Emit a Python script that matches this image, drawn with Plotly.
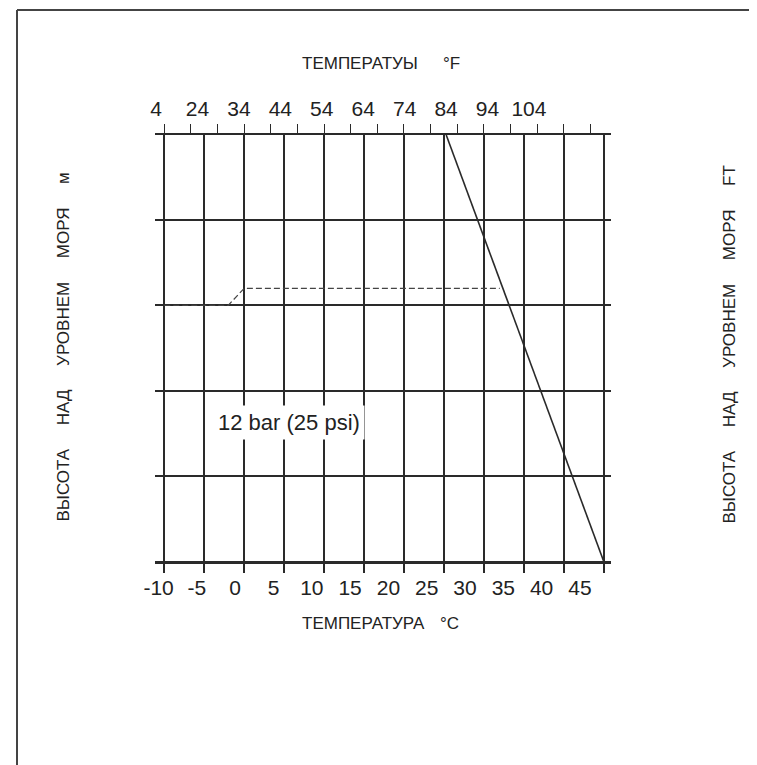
import plotly.graph_objects as go

# ---- data ----
celsius_ticks = [-10, -5, 0, 5, 10, 15, 20, 25, 30, 35, 40, 45]
fahrenheit_labels = ["4", "24", "34", "44", "54", "64", "74", "84", "94", "104"]
altitude_levels = [0, 500, 1000, 1500, 2000, 2500]

limit_temp_c = [25.3, 45]          # solid diagonal limit line
limit_alt = [2500, 0]

dashed_temp_c = [-10, -2, 0, 32]   # dashed curve
dashed_alt = [1500, 1500, 1600, 1600]

label_text = "12 bar (25 psi)"
label_pos = (5.6, 810)

# ---- figure ----
W, H = 757, 765
OFF = 8  # page body offset
FONT = "Liberation Sans"
LINE = "#2a2a2a"

fig = go.Figure()
fig.add_trace(go.Scatter(x=limit_temp_c, y=limit_alt, mode="lines",
                         line=dict(color=LINE, width=1.6), showlegend=False,
                         hoverinfo="skip"))
fig.add_trace(go.Scatter(x=dashed_temp_c, y=dashed_alt, mode="lines",
                         line=dict(color="#444", width=1.2, dash="6px,3px"),
                         showlegend=False, hoverinfo="skip"))

x_range = [-11.16, 45.93]

L, T, PW, PH = 155 - OFF, 135 - OFF, 456, 426

fig.update_layout(
    width=W, height=H,
    margin=dict(l=L, r=W - L - PW, t=T, b=H - T - PH, pad=0),
    paper_bgcolor="white", plot_bgcolor="white",
    font=dict(family=FONT, color="#222"),
    showlegend=False,
    xaxis=dict(range=x_range, tickmode="linear", tick0=celsius_ticks[0], dtick=5,
               showgrid=True, gridcolor=LINE, gridwidth=1.6, zeroline=False,
               showticklabels=False, ticks="outside", ticklen=9, tickwidth=1.6,
               tickcolor=LINE, showline=True, linecolor=LINE, linewidth=2.5),
    # bottom labels (°C)
    xaxis3=dict(overlaying="x", side="bottom", range=[-10.47, 49.06],
                tickmode="array", tickvals=celsius_ticks,
                ticktext=[str(v) for v in celsius_ticks],
                showgrid=False, zeroline=False, ticks="", showline=False,
                ticklabelstandoff=12,
                tickfont=dict(family=FONT, size=21, color="#222")),
    # top tick marks
    xaxis4=dict(overlaying="x", side="top", range=x_range, tickmode="linear",
                tick0=celsius_ticks[0], dtick=10 / 3, showgrid=False,
                zeroline=False, showticklabels=False, ticks="outside",
                ticklen=9, tickwidth=1.4, tickcolor=LINE, showline=True,
                linecolor=LINE, linewidth=2),
    # top labels (°F)
    xaxis2=dict(overlaying="x", side="top", range=[-0.024, 10.98],
                tickmode="array", tickvals=list(range(len(fahrenheit_labels))),
                ticktext=fahrenheit_labels, showgrid=False, zeroline=False,
                ticks="", showline=False, ticklabelstandoff=14,
                tickfont=dict(family=FONT, size=21, color="#222")),
    yaxis=dict(range=[altitude_levels[0], altitude_levels[-1]],
               tickmode="array", tickvals=altitude_levels,
               showgrid=True, gridcolor=LINE, gridwidth=1.6, zeroline=False,
               showticklabels=False, ticks="", showline=False),
)

# dummy invisible traces to activate the overlay axes
for ax in ["x2", "x3", "x4"]:
    fig.add_trace(go.Scatter(x=[None], y=[None], xaxis=ax, yaxis="y",
                             showlegend=False, hoverinfo="skip"))

# inner label
fig.add_annotation(x=label_pos[0], y=label_pos[1], xref="x", yref="y",
                   text=label_text, showarrow=False, bgcolor="white",
                   borderpad=4, font=dict(family=FONT, size=22, color="#222"))


def px(xp):
    return (xp - OFF - L) / PW


def py(yp):
    return (T + PH - (yp - OFF)) / PH


title_font = dict(family=FONT, size=17, color="#222")
fig.add_annotation(x=px(360), y=py(52), xref="paper", yref="paper",
                   text="ТЕМПЕРАТУЫ", showarrow=False, font=title_font)
fig.add_annotation(x=px(462), y=py(52), xref="paper", yref="paper",
                   text="°F", showarrow=False, font=title_font)
fig.add_annotation(x=px(363), y=py(635), xref="paper", yref="paper",
                   text="ТЕМПЕРАТУРА", showarrow=False, font=title_font)
fig.add_annotation(x=px(461), y=py(635), xref="paper", yref="paper",
                   text="°C", showarrow=False, font=title_font)

gap = "\u00a0" * 5
left_title = gap.join(["ВЫСОТА", "НАД", "УРОВНЕМ", "МОРЯ", "м"])
right_title = gap.join(["ВЫСОТА", "НАД", "УРОВНЕМ", "МОРЯ", "FT"])
fig.add_annotation(x=px(51), y=py(347), xref="paper", yref="paper",
                   text=left_title, textangle=-90, showarrow=False,
                   font=title_font)
fig.add_annotation(x=px(740), y=py(345), xref="paper", yref="paper",
                   text=right_title, textangle=-90, showarrow=False,
                   font=title_font)

# outer frame (top and left edges visible in the crop)
frame = dict(color="#444", width=2)
fig.add_shape(type="line", xref="paper", yref="paper",
              x0=px(17), x1=px(770), y0=py(10), y1=py(10), line=frame)
fig.add_shape(type="line", xref="paper", yref="paper",
              x0=px(17), x1=px(17), y0=py(10), y1=py(780), line=frame)

fig.write_html("out.html")
